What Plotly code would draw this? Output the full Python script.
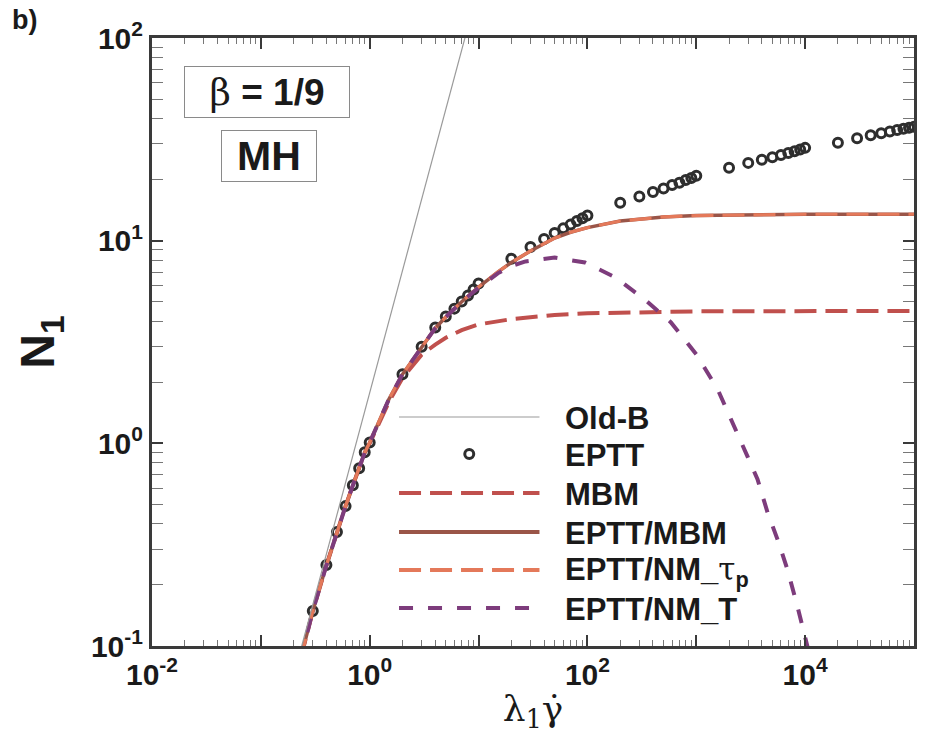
import plotly.graph_objects as go

# ---------------- data ----------------
oldb_x = [0.2, 8.0]
oldb_y = [0.071, 114.0]

eptt_x = [0.3, 0.4, 0.5, 0.6, 0.7, 0.8, 0.9, 1.0,
          2, 3, 4, 5, 6, 7, 8, 9, 10,
          20, 30, 40, 50, 60, 70, 80, 90, 100,
          200, 300, 400, 500, 600, 700, 800, 900, 1000,
          2000, 3000, 4000, 5000, 6000, 7000, 8000, 9000, 10000,
          20000, 30000, 40000, 50000, 60000, 70000, 80000, 90000, 100000]
eptt_y = [0.149, 0.251, 0.365, 0.49, 0.621, 0.753, 0.903, 1.01,
          2.19, 3.0, 3.73, 4.23, 4.62, 5.01, 5.36, 5.74, 6.14,
          8.15, 9.3, 10.2, 10.9, 11.5, 12.0, 12.5, 12.9, 13.3,
          15.4, 16.5, 17.4, 18.1, 18.8, 19.3, 19.9, 20.4, 20.9,
          22.9, 24.2, 25.1, 25.8, 26.5, 27.1, 27.6, 28.2, 28.7,
          30.4, 32.0, 33.1, 33.9, 34.6, 35.2, 35.7, 36.1, 36.5]

curve_x = [0.23, 0.3, 0.4, 0.5, 0.6, 0.7, 0.8, 0.9, 1.0, 1.5, 2, 3, 4, 5, 7,
           10, 15, 20, 30, 50, 70, 100, 200, 500, 1000, 10000, 100000]
eptt_mbm_y = [0.085, 0.149, 0.25, 0.365, 0.49, 0.62, 0.75, 0.90, 1.01, 1.65, 2.19,
              3.0, 3.7, 4.2, 5.0, 5.9, 7.0, 7.8, 8.9, 10.3, 11.0, 11.6, 12.5,
              13.1, 13.3, 13.5, 13.5]
nm_tau_y = [0.085, 0.149, 0.25, 0.365, 0.49, 0.62, 0.75, 0.90, 1.01, 1.65, 2.19,
            3.0, 3.7, 4.2, 5.0, 5.9, 7.0, 7.8, 8.9, 10.3, 11.0, 11.6, 12.5,
            13.1, 13.3, 13.5, 13.5]

mbm_x = [0.23, 0.3, 0.4, 0.5, 0.6, 0.7, 0.8, 0.9, 1.0, 1.5, 2, 2.5, 3, 4, 5, 7,
         10, 20, 50, 100, 300, 1000, 100000]
mbm_y = [0.085, 0.149, 0.25, 0.365, 0.49, 0.62, 0.75, 0.90, 1.0, 1.6, 2.1, 2.45,
         2.74, 3.07, 3.32, 3.62, 3.86, 4.1, 4.3, 4.38, 4.45, 4.48, 4.5]

nmt_x = [0.23, 0.3, 0.4, 0.5, 0.6, 0.7, 0.8, 0.9, 1.0, 1.5, 2, 3, 4, 5, 7, 10,
         15, 20, 27, 50, 95, 180, 340, 585, 1000, 1570, 2250, 2960, 3650,
         4510, 5570, 6870, 8490, 9840, 11000]
nmt_y = [0.085, 0.149, 0.25, 0.365, 0.49, 0.62, 0.75, 0.90, 1.01, 1.65, 2.19,
         3.0, 3.7, 4.2, 5.0, 5.85, 6.9, 7.5, 7.9, 8.25, 7.8, 6.6, 5.1, 3.95,
         2.75, 1.85, 1.21, 0.86, 0.665, 0.457, 0.336, 0.239, 0.157, 0.117, 0.09]

x_label_vals = [0.01, 1, 100, 10000]
x_label_text = ["10<sup>-2</sup>", "10<sup>0</sup>", "10<sup>2</sup>", "10<sup>4</sup>"]
x_decades = [0.01, 0.1, 1, 10, 100, 1000, 10000, 100000]
y_major = [0.1, 1, 10, 100]
y_major_text = ["10<sup>-1</sup>", "10<sup>0</sup>", "10<sup>1</sup>", "10<sup>2</sup>"]

SERIF = "<span style='font-family:DejaVu Serif;font-weight:normal'>{}</span>"
legend_labels = ["Old-B", "EPTT", "MBM", "EPTT/MBM",
                 "EPTT/NM_" + SERIF.format("τ") + "<sub>p</sub>", "EPTT/NM_T"]

# ---------------- styles ----------------
C_OLDB = "#9a9a9a"
C_EPTT = "#2e2e2e"
C_MBM = "#c0504d"
C_EM = "#9a5548"
C_TAU = "#e4795a"
C_NMT = "#7d3c7c"
AX = "#3a3a3a"
FONT = "Liberation Sans"

minor_vals = lambda lo, hi: [m * 10 ** e for e in range(lo, hi) for m in range(2, 10)]

fig = go.Figure()
fig.add_trace(go.Scatter(x=oldb_x, y=oldb_y, mode="lines", xaxis="x2", yaxis="y",
                         line=dict(color=C_OLDB, width=1.2), name="Old-B"))
fig.add_trace(go.Scatter(x=mbm_x, y=mbm_y, mode="lines",
                         line=dict(color=C_MBM, width=4, dash="22px,9px"), name="MBM"))
fig.add_trace(go.Scatter(x=eptt_x, y=eptt_y, mode="markers",
                         marker=dict(symbol="circle-open", size=9, color=C_EPTT,
                                     line=dict(width=3, color=C_EPTT)), name="EPTT"))
fig.add_trace(go.Scatter(x=curve_x, y=eptt_mbm_y, mode="lines",
                         line=dict(color=C_EM, width=3.5), name="EPTT/MBM"))
fig.add_trace(go.Scatter(x=curve_x, y=nm_tau_y, mode="lines",
                         line=dict(color=C_TAU, width=3.2, dash="22px,9px"), name="EPTT/NM_tau_p"))
fig.add_trace(go.Scatter(x=nmt_x, y=nmt_y, mode="lines",
                         line=dict(color=C_NMT, width=4, dash="14px,15px"), name="EPTT/NM_T"))

# ---------------- manual legend ----------------
L, R, T, B = 152, 917, 38, 646
px = lambda v: (v - L) / (R - L)
py = lambda v: (B - v) / (B - T)
rows = [417, 454, 493, 532, 570, 608]
styles = [dict(color=C_OLDB, width=1.2), None,
          dict(color=C_MBM, width=4, dash="22px,9px"),
          dict(color=C_EM, width=4),
          dict(color=C_TAU, width=4, dash="22px,9px"),
          dict(color=C_NMT, width=4, dash="14px,15px")]
shapes = []
annotations = []
for r, st, lab in zip(rows, styles, legend_labels):
    if st is not None:
        shapes.append(dict(type="line", xref="paper", yref="paper",
                           x0=px(400), x1=px(541), y0=py(r), y1=py(r), line=st))
    else:
        shapes.append(dict(type="circle", xref="paper", yref="paper",
                           x0=px(466), x1=px(475), y0=py(r + 4.5), y1=py(r - 4.5),
                           line=dict(color=C_EPTT, width=3)))
    annotations.append(dict(text=lab, xref="paper", yref="paper", x=px(565), y=py(r + 1),
                            xanchor="left", yanchor="middle", showarrow=False,
                            font=dict(family=FONT, size=31, color="#1a1a1a", weight="bold")))

annotations += [
    dict(text=SERIF.format("β") + " = 1/9",
         xref="paper", yref="paper", x=px(267), y=py(92), xanchor="center", yanchor="middle",
         showarrow=False, width=162, height=48, bordercolor="#8a8a8a", borderwidth=1,
         borderpad=1, bgcolor="white",
         font=dict(family=FONT, size=37, color="#1a1a1a", weight="bold")),
    dict(text="MH", xref="paper", yref="paper", x=px(269), y=py(156),
         xanchor="center", yanchor="middle",
         showarrow=False, width=92, height=48, bordercolor="#8a8a8a", borderwidth=1,
         borderpad=1, bgcolor="white",
         font=dict(family=FONT, size=41, color="#1a1a1a", weight="bold")),
    dict(text="b)", xref="paper", yref="paper", x=px(9), y=py(20), xanchor="left",
         yanchor="middle", showarrow=False,
         font=dict(family=FONT, size=27, color="#1a1a1a", weight="bold")),
]

axis_common = dict(type="log", showline=True, linecolor=AX, linewidth=3, mirror="allticks",
                   ticks="inside", ticklen=11, tickwidth=2, tickcolor=AX, showgrid=False,
                   zeroline=False, tickmode="array",
                   tickfont=dict(family=FONT, size=30, color="#1a1a1a", weight="bold"))

fig.update_layout(
    width=925, height=751,
    margin=dict(l=L, r=925 - R, t=T, b=751 - B),
    paper_bgcolor="white", plot_bgcolor="white",
    showlegend=False,
    shapes=shapes, annotations=annotations,
    xaxis=dict(range=[-2, 5], tickvals=x_label_vals, ticktext=x_label_text,
               minor=dict(tickvals=minor_vals(-2, 5), ticks="inside", ticklen=6,
                          tickwidth=1, tickcolor="#777777"),
               title=dict(text="λ<sub>1</sub>γ̇", standoff=6,
                          font=dict(family="DejaVu Serif", size=36, color="#1a1a1a")),
               **axis_common),
    xaxis2=dict(type="log", range=[-2, 5], overlaying="x", anchor="y", side="bottom",
                tickmode="array", tickvals=x_decades, showticklabels=False,
                ticks="inside", ticklen=11, tickwidth=2, tickcolor=AX, mirror="allticks",
                showline=True, linecolor=AX, linewidth=3, showgrid=False, zeroline=False),
    yaxis=dict(range=[-1, 2], tickvals=y_major, ticktext=y_major_text,
               minor=dict(tickvals=minor_vals(-1, 2), ticks="inside", ticklen=6,
                          tickwidth=1, tickcolor="#777777"),
               title=dict(text="N<sub>1</sub>", standoff=22,
                          font=dict(family=FONT, size=48, color="#1a1a1a", weight="bold")),
               **axis_common),
)

fig.write_html("out.html")
